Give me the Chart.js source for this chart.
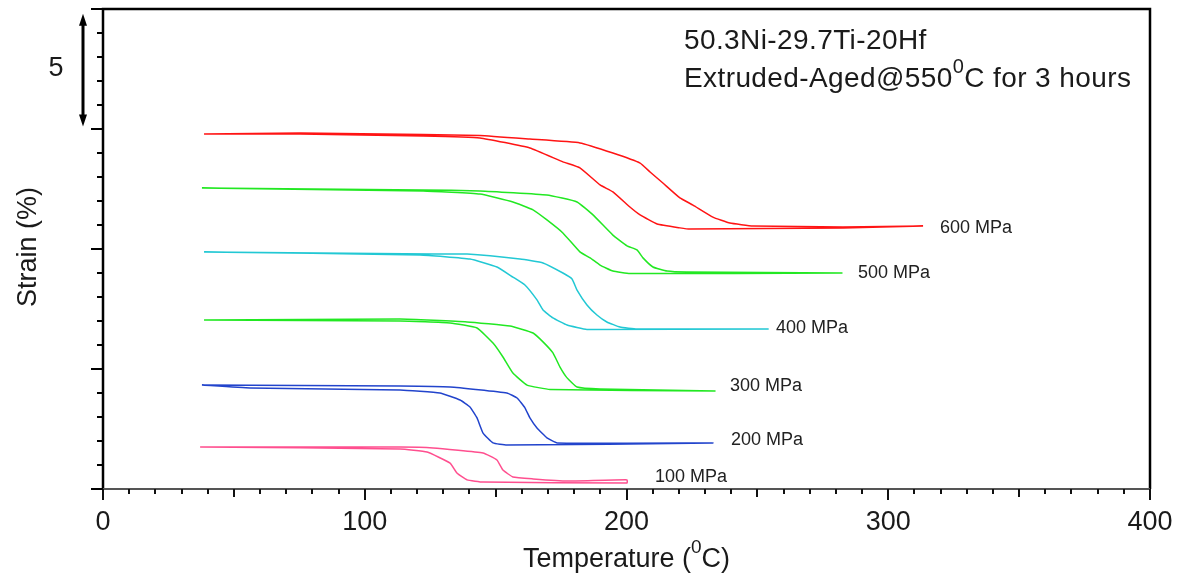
<!DOCTYPE html>
<html>
<head>
<meta charset="utf-8">
<script src="https://cdn.jsdelivr.net/npm/chart.js@4.4.0/dist/chart.umd.min.js"></script>
<style>
  html, body { margin: 0; padding: 0; background: #fff; }
  #wrap { width: 1183px; height: 577px; }
</style>
</head>
<body>
<div id="wrap"><canvas id="strainChart"></canvas></div>
<script>
// applied stress of each thermal cycle, MPa
const loads = [600, 500, 400, 300, 200, 100];

// each loop: heating branch (upper/right) out to max T, then cooling branch back
const temp600 = [38.6, 75.3, 122.3, 144.0, 163.1, 182.2, 194.8, 205.2, 209.0, 213.9, 220.4, 225.4, 233.0, 239.5, 248.3, 282.7, 313.3,
                 282.7, 224.3, 220.4, 211.7, 205.2, 201.3, 194.8, 189.9, 182.2, 175.7, 163.1, 144.0, 122.3, 75.3, 38.6];
const strain600 = [14.79, 14.83, 14.77, 14.73, 14.58, 14.42, 14.00, 13.58, 13.21, 12.75, 12.13, 11.83, 11.33, 11.08, 10.96, 10.92, 10.96,
                   10.88, 10.83, 10.88, 11.04, 11.42, 11.75, 12.38, 12.67, 13.38, 13.63, 14.21, 14.63, 14.71, 14.79, 14.79];

const temp500 = [37.8, 122.3, 144.0, 169.6, 181.1, 187.2, 194.8, 200.2, 204.0, 206.3, 210.1, 215.5, 223.1, 282.3,
                 201.3, 194.8, 189.9, 186.1, 182.2, 175.7, 169.6, 164.3, 156.6, 144.0, 122.3, 37.8];
const strain500 = [12.54, 12.46, 12.42, 12.25, 11.96, 11.42, 10.58, 10.13, 9.96, 9.63, 9.25, 9.08, 9.04, 9.00,
                   8.98, 9.08, 9.33, 9.63, 9.88, 10.67, 11.21, 11.63, 11.96, 12.29, 12.42, 12.54];

const temp400 = [38.6, 126.1, 139.1, 159.3, 168.1, 175.7, 179.2, 181.1, 184.9, 188.7, 192.5, 197.5, 204.0, 254.1,
                 184.9, 177.3, 171.9, 168.1, 165.8, 161.2, 156.6, 150.5, 140.2, 121.1, 38.6];
const strain400 = [9.88, 9.79, 9.79, 9.58, 9.42, 9.00, 8.75, 8.29, 7.67, 7.25, 6.96, 6.75, 6.67, 6.67,
                   6.65, 6.83, 7.13, 7.46, 7.88, 8.50, 8.83, 9.25, 9.58, 9.75, 9.88];

const temp300 = [38.6, 113.5, 139.1, 155.5, 164.3, 168.1, 171.9, 174.6, 177.3, 181.1, 189.9, 233.8,
                 170.8, 162.0, 156.6, 152.8, 149.0, 142.9, 132.6, 113.5, 38.6];
const strain300 = [7.04, 7.08, 6.96, 6.79, 6.50, 6.13, 5.67, 5.08, 4.63, 4.25, 4.17, 4.08,
                   4.15, 4.33, 4.83, 5.50, 6.08, 6.71, 6.92, 7.00, 7.04];

const temp200 = [37.8, 113.5, 132.6, 154.3, 158.2, 161.2, 163.1, 165.8, 169.6, 173.5, 233.0,
                 154.3, 149.0, 145.2, 142.9, 140.2, 136.4, 128.7, 113.5, 56.2, 37.8];
const strain200 = [4.33, 4.29, 4.25, 4.00, 3.79, 3.38, 2.96, 2.54, 2.13, 1.92, 1.92,
                   1.83, 1.92, 2.33, 2.96, 3.42, 3.71, 4.00, 4.13, 4.21, 4.33];

const temp100 = [37.1, 113.5, 126.1, 145.2, 150.5, 152.8, 156.6, 164.3, 177.3, 200.2, 200.2,
                 145.2, 139.1, 135.2, 132.6, 123.8, 113.5, 37.1];
const strain100 = [1.75, 1.75, 1.71, 1.50, 1.21, 0.79, 0.50, 0.42, 0.33, 0.38, 0.25,
                   0.29, 0.38, 0.67, 1.08, 1.54, 1.67, 1.75];

const xTickLabels = [0, 100, 200, 300, 400];

const temps = [temp600, temp500, temp400, temp300, temp200, temp100];
const strains = [strain600, strain500, strain400, strain300, strain200, strain100];
const colors = ['#ff1414', '#22e822', '#22c8d4', '#2244cc', '#ff4f8f'];
const lineColors = [colors[0], colors[1], colors[2], colors[1], colors[3], colors[4]];

// where each "xxx MPa" tag sits, in data units
const tagT = [319.8, 288.4, 257.1, 239.5, 239.9, 210.9];
const tagS = [10.88, 9.0, 6.71, 4.29, 2.04, 0.5];

const FONT = "'Liberation Sans', Arial, sans-serif";

const datasets = loads.map((load, i) => ({
  label: load + ' MPa',
  data: temps[i].map((t, k) => ({ x: t, y: strains[i][k] })),
  showLine: true,
  borderColor: lineColors[i],
  borderWidth: 1.5,
  pointRadius: 0,
  tension: 0.12
}));

// draws a string built of pieces, some raised and smaller (the superscript 0)
function richText(ctx, parts, x, y, align, spacing) {
  ctx.letterSpacing = (spacing || 0) + 'px';
  let w = 0;
  parts.forEach(p => { ctx.font = p.size + 'px ' + FONT; w += ctx.measureText(p.t).width; });
  let cx = align === 'center' ? x - w / 2 : x;
  ctx.textAlign = 'left';
  ctx.textBaseline = 'alphabetic';
  parts.forEach(p => {
    ctx.font = p.size + 'px ' + FONT;
    ctx.fillText(p.t, cx, y + (p.dy || 0));
    cx += ctx.measureText(p.t).width;
  });
  ctx.letterSpacing = '0px';
}

const decor = {
  id: 'decor',
  afterDatasetsDraw(chart) {
    const { ctx, chartArea: a, scales: { x, y } } = chart;
    ctx.save();

    // frame
    ctx.strokeStyle = '#000';
    ctx.lineWidth = 2.5;
    ctx.beginPath();
    ctx.moveTo(a.left, a.bottom);
    ctx.lineTo(a.left, a.top);
    ctx.lineTo(a.right, a.top);
    ctx.lineTo(a.right, a.bottom);
    ctx.stroke();
    ctx.strokeStyle = '#555';
    ctx.lineWidth = 2;
    ctx.beginPath();
    ctx.moveTo(a.left, a.bottom);
    ctx.lineTo(a.right, a.bottom);
    ctx.stroke();

    // x ticks: every 10, longer at 50 and 100
    ctx.strokeStyle = '#111';
    ctx.lineWidth = 2;
    for (let v = 0; v <= 400; v += 10) {
      const px = Math.round(x.getPixelForValue(v));
      const len = v % 100 === 0 ? 11 : (v % 50 === 0 ? 8 : 5);
      ctx.beginPath();
      ctx.moveTo(px, a.bottom);
      ctx.lineTo(px, a.bottom + len);
      ctx.stroke();
    }
    // y ticks: every 1, longer at 5
    ctx.strokeStyle = '#000';
    for (let v = 0; v <= 20; v++) {
      const py = Math.round(y.getPixelForValue(v));
      const len = v % 5 === 0 ? 12 : 6;
      ctx.beginPath();
      ctx.moveTo(a.left - len, py);
      ctx.lineTo(a.left, py);
      ctx.stroke();
    }

    // 5 % scale bar
    const bx = 83, b1 = y.getPixelForValue(19.8), b2 = y.getPixelForValue(15.1);
    ctx.fillStyle = '#000';
    ctx.lineWidth = 3;
    ctx.beginPath();
    ctx.moveTo(bx, b1 + 8);
    ctx.lineTo(bx, b2 - 8);
    ctx.stroke();
    ctx.beginPath();
    ctx.moveTo(bx, b1); ctx.lineTo(bx - 4, b1 + 12); ctx.lineTo(bx + 4, b1 + 12); ctx.closePath();
    ctx.moveTo(bx, b2); ctx.lineTo(bx - 4, b2 - 12); ctx.lineTo(bx + 4, b2 - 12); ctx.closePath();
    ctx.fill();

    ctx.fillStyle = '#1a1a1a';
    ctx.font = '27px ' + FONT;
    ctx.textAlign = 'center';
    ctx.textBaseline = 'middle';
    ctx.fillText('5', 56, 69);

    // axis titles
    richText(ctx, [
      { t: 'Temperature (', size: 27 },
      { t: '0', size: 19, dy: -14 },
      { t: 'C)', size: 27 }
    ], (a.left + a.right) / 2, 567, 'center');

    ctx.save();
    ctx.translate(36, 247);
    ctx.rotate(-Math.PI / 2);
    ctx.font = '27px ' + FONT;
    ctx.textAlign = 'center';
    ctx.textBaseline = 'alphabetic';
    ctx.fillText('Strain (%)', 0, 0);
    ctx.restore();

    // sample annotation
    richText(ctx, [{ t: '50.3Ni-29.7Ti-20Hf', size: 28 }], 684, 49, 'left', 0.4);
    richText(ctx, [
      { t: 'Extruded-Aged@550', size: 28 },
      { t: '0', size: 20, dy: -14 },
      { t: 'C for 3 hours', size: 28 }
    ], 684, 87, 'left', 0.4);

    // stress tags
    ctx.font = '18px ' + FONT;
    ctx.textAlign = 'left';
    ctx.textBaseline = 'middle';
    ctx.fillStyle = '#222';
    loads.forEach((load, i) => {
      ctx.fillText(load + ' MPa', x.getPixelForValue(tagT[i]), y.getPixelForValue(tagS[i]));
    });

    ctx.restore();
  }
};

new Chart(document.getElementById('strainChart'), {
  type: 'scatter',
  data: { datasets },
  options: {
    responsive: true,
    maintainAspectRatio: false,
    animation: false,
    layout: { padding: { top: 9, right: 33, left: 0, bottom: 0 } },
    plugins: { legend: { display: false }, tooltip: { enabled: false } },
    scales: {
      x: {
        type: 'linear', min: 0, max: 400,
        grid: { display: false, drawTicks: false },
        border: { display: false },
        ticks: {
          stepSize: 10, autoSkip: false, maxRotation: 0, padding: 17,
          color: '#1a1a1a', font: { family: FONT, size: 27 },
          callback: v => xTickLabels.includes(v) ? v : ''
        },
        afterFit: s => { s.height = 88; s.paddingLeft = 0; s.paddingRight = 0; }
      },
      y: {
        type: 'linear', min: 0, max: 20,
        grid: { display: false, drawTicks: false },
        border: { display: false },
        ticks: { display: false },
        afterFit: s => { s.width = 103; s.paddingTop = 0; s.paddingBottom = 0; }
      }
    }
  },
  plugins: [decor]
});
</script>
</body>
</html>
